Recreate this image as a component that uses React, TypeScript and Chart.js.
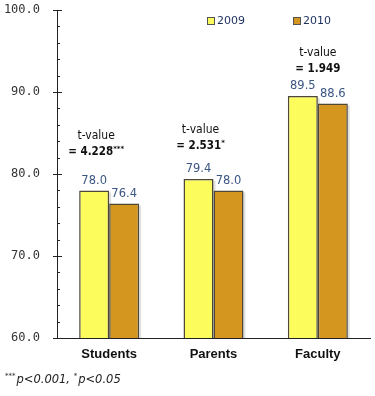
import React, { useEffect, useRef } from "react";
import { Chart, registerables } from "chart.js";

Chart.register(...registerables);

const categories = ["Students", "Parents", "Faculty"];
const series2009 = [78.0, 79.4, 89.5];
const series2010 = [76.4, 78.0, 88.6];
const seriesNames = ["2009", "2010"];
const tValues = ["4.228", "2.531", "1.949"];
const tStars = ["***", "*", ""];
const tLevels = [84.6, 85.4, 94.8];
const yMin = 60;
const yMax = 100;

const COL_2009 = "#fcfc5c";
const COL_2010 = "#d4961e";
const BORDER = "#4e4636";
const LABEL_BLUE = "#3b5683";

const overlay = {
  id: "overlay",
  afterDatasetsDraw(chart: any) {
    const ctx = chart.ctx;
    const y = chart.scales.y;
    const x = chart.scales.x;
    const area = chart.chartArea;
    ctx.save();
    // axis ticks
    ctx.strokeStyle = "#222";
    ctx.lineWidth = 1;
    for (let v = yMin; v <= yMax; v += 2) {
      const py = Math.round(y.getPixelForValue(v)) + 0.5;
      ctx.beginPath();
      if (v % 10 === 0) {
        ctx.moveTo(area.left - 4, py);
        ctx.lineTo(area.left + 5, py);
      } else {
        ctx.moveTo(area.left, py);
        ctx.lineTo(area.left + 3, py);
      }
      ctx.stroke();
    }
    // value labels
    ctx.font = "11.5px 'DejaVu Sans'";
    ctx.fillStyle = LABEL_BLUE;
    ctx.textAlign = "center";
    ctx.textBaseline = "bottom";
    chart.data.datasets.forEach((ds: any, di: number) => {
      const meta = chart.getDatasetMeta(di);
      meta.data.forEach((bar: any, i: number) => {
        ctx.fillText(ds.data[i].toFixed(1), bar.x, bar.y - 4);
      });
    });
    // t-value annotations
    const meta0 = chart.getDatasetMeta(0);
    categories.forEach((_, i) => {
      const cx = i < 2 ? meta0.data[i].x + 2 : x.getPixelForValue(i);
      const py = y.getPixelForValue(tLevels[i]);
      ctx.fillStyle = "#111";
      ctx.textBaseline = "middle";
      ctx.textAlign = "center";
      ctx.font = "12px 'DejaVu Sans Condensed', 'DejaVu Sans'";
      ctx.fillText("t-value", cx, py);
      ctx.font = "bold 11.5px 'DejaVu Sans Condensed', 'DejaVu Sans'";
      const main = "= " + tValues[i];
      const w = ctx.measureText(main).width;
      ctx.font = "bold 7px 'DejaVu Sans'";
      const sw = tStars[i] ? ctx.measureText(tStars[i]).width : 0;
      const startX = cx - (w + sw) / 2;
      ctx.textAlign = "left";
      ctx.font = "bold 11.5px 'DejaVu Sans Condensed', 'DejaVu Sans'";
      ctx.fillText(main, startX, py + 16);
      if (tStars[i]) {
        ctx.font = "bold 7px 'DejaVu Sans'";
        ctx.fillText(tStars[i], startX + w, py + 13);
      }
    });
    // legend
    const legendX = [207, 293];
    const cols = [COL_2009, COL_2010];
    seriesNames.forEach((n, i) => {
      const lx = legendX[i];
      ctx.fillStyle = cols[i];
      ctx.fillRect(lx, 17, 8, 8);
      ctx.strokeStyle = "#555";
      ctx.lineWidth = 1;
      ctx.strokeRect(lx + 0.5, 17.5, 7, 7);
      ctx.fillStyle = "#1b2f5e";
      ctx.font = "11px 'DejaVu Sans'";
      ctx.textAlign = "left";
      ctx.textBaseline = "middle";
      ctx.fillText(n, lx + 10, 21.5);
    });
    // footnote
    let fx = 5;
    const fy = 383;
    ctx.fillStyle = "#222";
    ctx.textBaseline = "alphabetic";
    ctx.font = "7px 'DejaVu Sans'";
    ctx.fillText("***", fx, fy - 5);
    fx += ctx.measureText("***").width + 1;
    ctx.font = "italic 11.5px 'DejaVu Sans'";
    ctx.fillText("p<0.001, ", fx, fy);
    fx += ctx.measureText("p<0.001, ").width;
    ctx.font = "7px 'DejaVu Sans'";
    ctx.fillText("*", fx, fy - 5);
    fx += ctx.measureText("*").width + 1;
    ctx.font = "italic 11.5px 'DejaVu Sans'";
    ctx.fillText("p<0.05", fx, fy);
    ctx.restore();
  },
};

const bevel = {
  id: "bevel",
  beforeDatasetsDraw(chart: any) {
    const ctx = chart.ctx;
    const area = chart.chartArea;
    const base = chart.scales.y.getPixelForValue(yMin);
    ctx.save();
    ctx.beginPath();
    ctx.rect(area.left, area.top, area.right - area.left, area.bottom - area.top);
    ctx.clip();
    ctx.fillStyle = "rgba(0,0,0,0.12)";
    chart.data.datasets.forEach((_: any, di: number) => {
      chart.getDatasetMeta(di).data.forEach((bar: any) => {
        const left = bar.x - bar.width / 2;
        ctx.fillRect(left + 2, bar.y + 2, bar.width, base - bar.y - 2);
      });
    });
    ctx.restore();
  },
};

export default function App() {
  const ref = useRef<HTMLCanvasElement>(null);
  useEffect(() => {
    if (!ref.current) return;
    const chart = new Chart(ref.current, {
      type: "bar",
      data: {
        labels: categories,
        datasets: [
          {
            label: seriesNames[0],
            data: series2009,
            backgroundColor: COL_2009,
            borderColor: BORDER,
            borderWidth: 1.5,
            borderSkipped: "bottom",
          },
          {
            label: seriesNames[1],
            data: series2010,
            backgroundColor: COL_2010,
            borderColor: BORDER,
            borderWidth: 1.5,
            borderSkipped: "bottom",
          },
        ],
      },
      options: {
        animation: false,
        responsive: false,
        maintainAspectRatio: false,
        layout: { padding: { top: 10, right: 5, left: 0, bottom: 0 } },
        datasets: { bar: { categoryPercentage: 0.575, barPercentage: 1 } },
        plugins: { legend: { display: false }, tooltip: { enabled: false } },
        scales: {
          x: {
            grid: { display: false, drawTicks: false },
            border: { display: true, color: "#222", width: 1 },
            ticks: {
              padding: 9,
              color: "#111",
              font: { family: "'Liberation Sans', Arial", size: 13, weight: "bold" },
            },
            afterFit: (s: any) => {
              s.height = 58;
              s.paddingLeft = 0;
              s.paddingRight = 0;
            },
          },
          y: {
            min: yMin,
            max: yMax,
            grid: { display: false, drawTicks: false },
            border: { display: true, color: "#222", width: 1 },
            ticks: {
              stepSize: 10,
              padding: 17,
              color: "#333",
              font: { family: "'DejaVu Sans Mono'", size: 12 },
              callback: (v: any) => Number(v).toFixed(1),
            },
            afterFit: (s: any) => {
              s.width = 57;
              s.paddingTop = 0;
              s.paddingBottom = 0;
            },
          },
        },
      },
      plugins: [bevel, overlay],
    });
    return () => chart.destroy();
  }, []);
  return (
    <div style={{ position: "absolute", left: 0, top: 0, width: 375, height: 396, background: "#fff" }}>
      <canvas ref={ref} width={375} height={396} style={{ width: 375, height: 396 }} />
    </div>
  );
}
